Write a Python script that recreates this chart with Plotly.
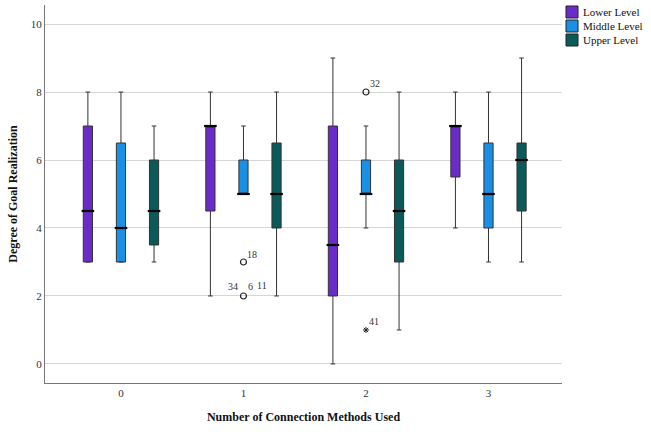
import plotly.graph_objects as go

# Groups on the x axis
categories = [0, 1, 2, 3]
tick_labels = ["0", "1", "2", "3"]

# Five-number summaries per level (min whisker, Q1, median, Q3, max whisker)
lower_min = [3, 2, 0, 4]
lower_q1 = [3, 4.5, 2, 5.5]
lower_med = [4.5, 7, 3.5, 7]
lower_q3 = [7, 7, 7, 7]
lower_max = [8, 8, 9, 8]

middle_min = [3, 5, 4, 3]
middle_q1 = [3, 5, 5, 4]
middle_med = [4, 5, 5, 5]
middle_q3 = [6.5, 6, 6, 6.5]
middle_max = [8, 7, 7, 8]

upper_min = [3, 2, 1, 3]
upper_q1 = [3.5, 4, 3, 4.5]
upper_med = [4.5, 5, 4.5, 6]
upper_q3 = [6, 6.5, 6, 6.5]
upper_max = [7, 8, 8, 9]

# Outliers (circles) and extremes (stars) of the Middle Level
outlier_x = [1, 1, 2]
outlier_y = [3, 2, 8]
extreme_x = [2]
extreme_y = [1]
case_labels = ["18", "34", "6", "11", "32", "41"]
case_label_x = [1, 1, 1, 1, 2, 2]
case_label_y = [3, 2, 2, 2, 8, 1]

series = [
    ("Lower Level", "#6a2bc8", lower_min, lower_q1, lower_med, lower_q3, lower_max),
    ("Middle Level", "#1a8fe6", middle_min, middle_q1, middle_med, middle_q3, middle_max),
    ("Upper Level", "#0a5a5a", upper_min, upper_q1, upper_med, upper_q3, upper_max),
]

FONT = "Liberation Serif, Times New Roman, serif"
offsets = [-0.27, 0.0, 0.27]
box_w = 0.075

fig = go.Figure()

for (name, color, mn, q1, med, q3, mx), off in zip(series, offsets):
    xs = [c + off for c in categories]
    fig.add_trace(go.Box(
        name=name, x=xs, q1=q1, median=med, q3=q3,
        lowerfence=mn, upperfence=mx,
        width=box_w, whiskerwidth=0.5,
        fillcolor=color, line=dict(color="#333333", width=1),
        boxpoints=False, hoverinfo="skip", showlegend=False,
    ))

# Thick median bars
for (name, color, mn, q1, med, q3, mx), off in zip(series, offsets):
    fig.add_trace(go.Scatter(
        x=[c + off for c in categories], y=med, mode="markers",
        marker=dict(symbol="line-ew", size=9,
                    line=dict(color="black", width=2.2)),
        showlegend=False, hoverinfo="skip",
    ))

fig.add_trace(go.Scatter(
    x=outlier_x, y=outlier_y, mode="markers",
    marker=dict(symbol="circle-open", size=6, color="#222",
                line=dict(width=1.2)),
    showlegend=False, hoverinfo="skip",
))
fig.add_trace(go.Scatter(
    x=extreme_x, y=extreme_y, mode="markers",
    marker=dict(symbol="asterisk-open", size=5, color="#222",
                line=dict(width=1, color="#222")),
    showlegend=False, hoverinfo="skip",
))

# Case-number labels beside the outliers
label_shift = {
    "18": (9, 7), "34": (-10, 9), "6": (7, 9), "11": (19, 10),
    "32": (9, 9), "41": (8, 8),
}
for lab, lx, ly in zip(case_labels, case_label_x, case_label_y):
    dx, dy = label_shift[lab]
    fig.add_annotation(
        x=lx, y=ly, text=lab, showarrow=False,
        xshift=dx, yshift=dy,
        font=dict(family=FONT, size=10, color="#333"),
    )

# Legend: coloured squares with labels, placed right of the plot area
for i, (name, color, *_rest) in enumerate(series):
    top = 6 + 14 * i
    fig.add_shape(
        type="rect", xref="paper", yref="paper",
        x0=(566 - 45) / 517, x1=(578 - 45) / 517,
        y0=(383 - top - 12) / 378, y1=(383 - top) / 378,
        fillcolor=color, line=dict(color="#222", width=1),
    )
    fig.add_annotation(
        xref="paper", yref="paper", x=(581 - 45) / 517,
        y=(383 - top - 6) / 378, xanchor="left", yanchor="middle",
        text=name, showarrow=False,
        font=dict(family=FONT, size=11, color="#111"),
    )

fig.update_layout(
    width=651, height=436,
    margin=dict(l=45, r=89, t=5, b=53, autoexpand=False),
    paper_bgcolor="white", plot_bgcolor="white",
    boxmode="overlay", showlegend=False,
    font=dict(family=FONT, size=11, color="#333"),
    xaxis=dict(
        range=[-0.62, 3.6], tickvals=categories, ticktext=tick_labels,
        showgrid=False, zeroline=False,
        showline=True, linecolor="#777", linewidth=1,
        ticks="", ticklen=0,
        tickfont=dict(family=FONT, size=11, color="#333"),
        title=dict(text="<b>Number of Connection Methods Used</b>",
                   font=dict(family=FONT, size=12, color="#111"),
                   standoff=14),
    ),
    yaxis=dict(
        range=[-0.56, 10.56], tickvals=[0, 2, 4, 6, 8, 10],
        showgrid=True, gridcolor="#d6d6d6", gridwidth=1.3,
        zeroline=False,
        showline=True, linecolor="#777", linewidth=1,
        ticks="", ticklen=0,
        tickfont=dict(family=FONT, size=11, color="#333"),
        title=dict(text="<b>Degree of Goal Realization</b>",
                   font=dict(family=FONT, size=12, color="#111"),
                   standoff=10),
    ),
)

fig.write_html("out.html")
